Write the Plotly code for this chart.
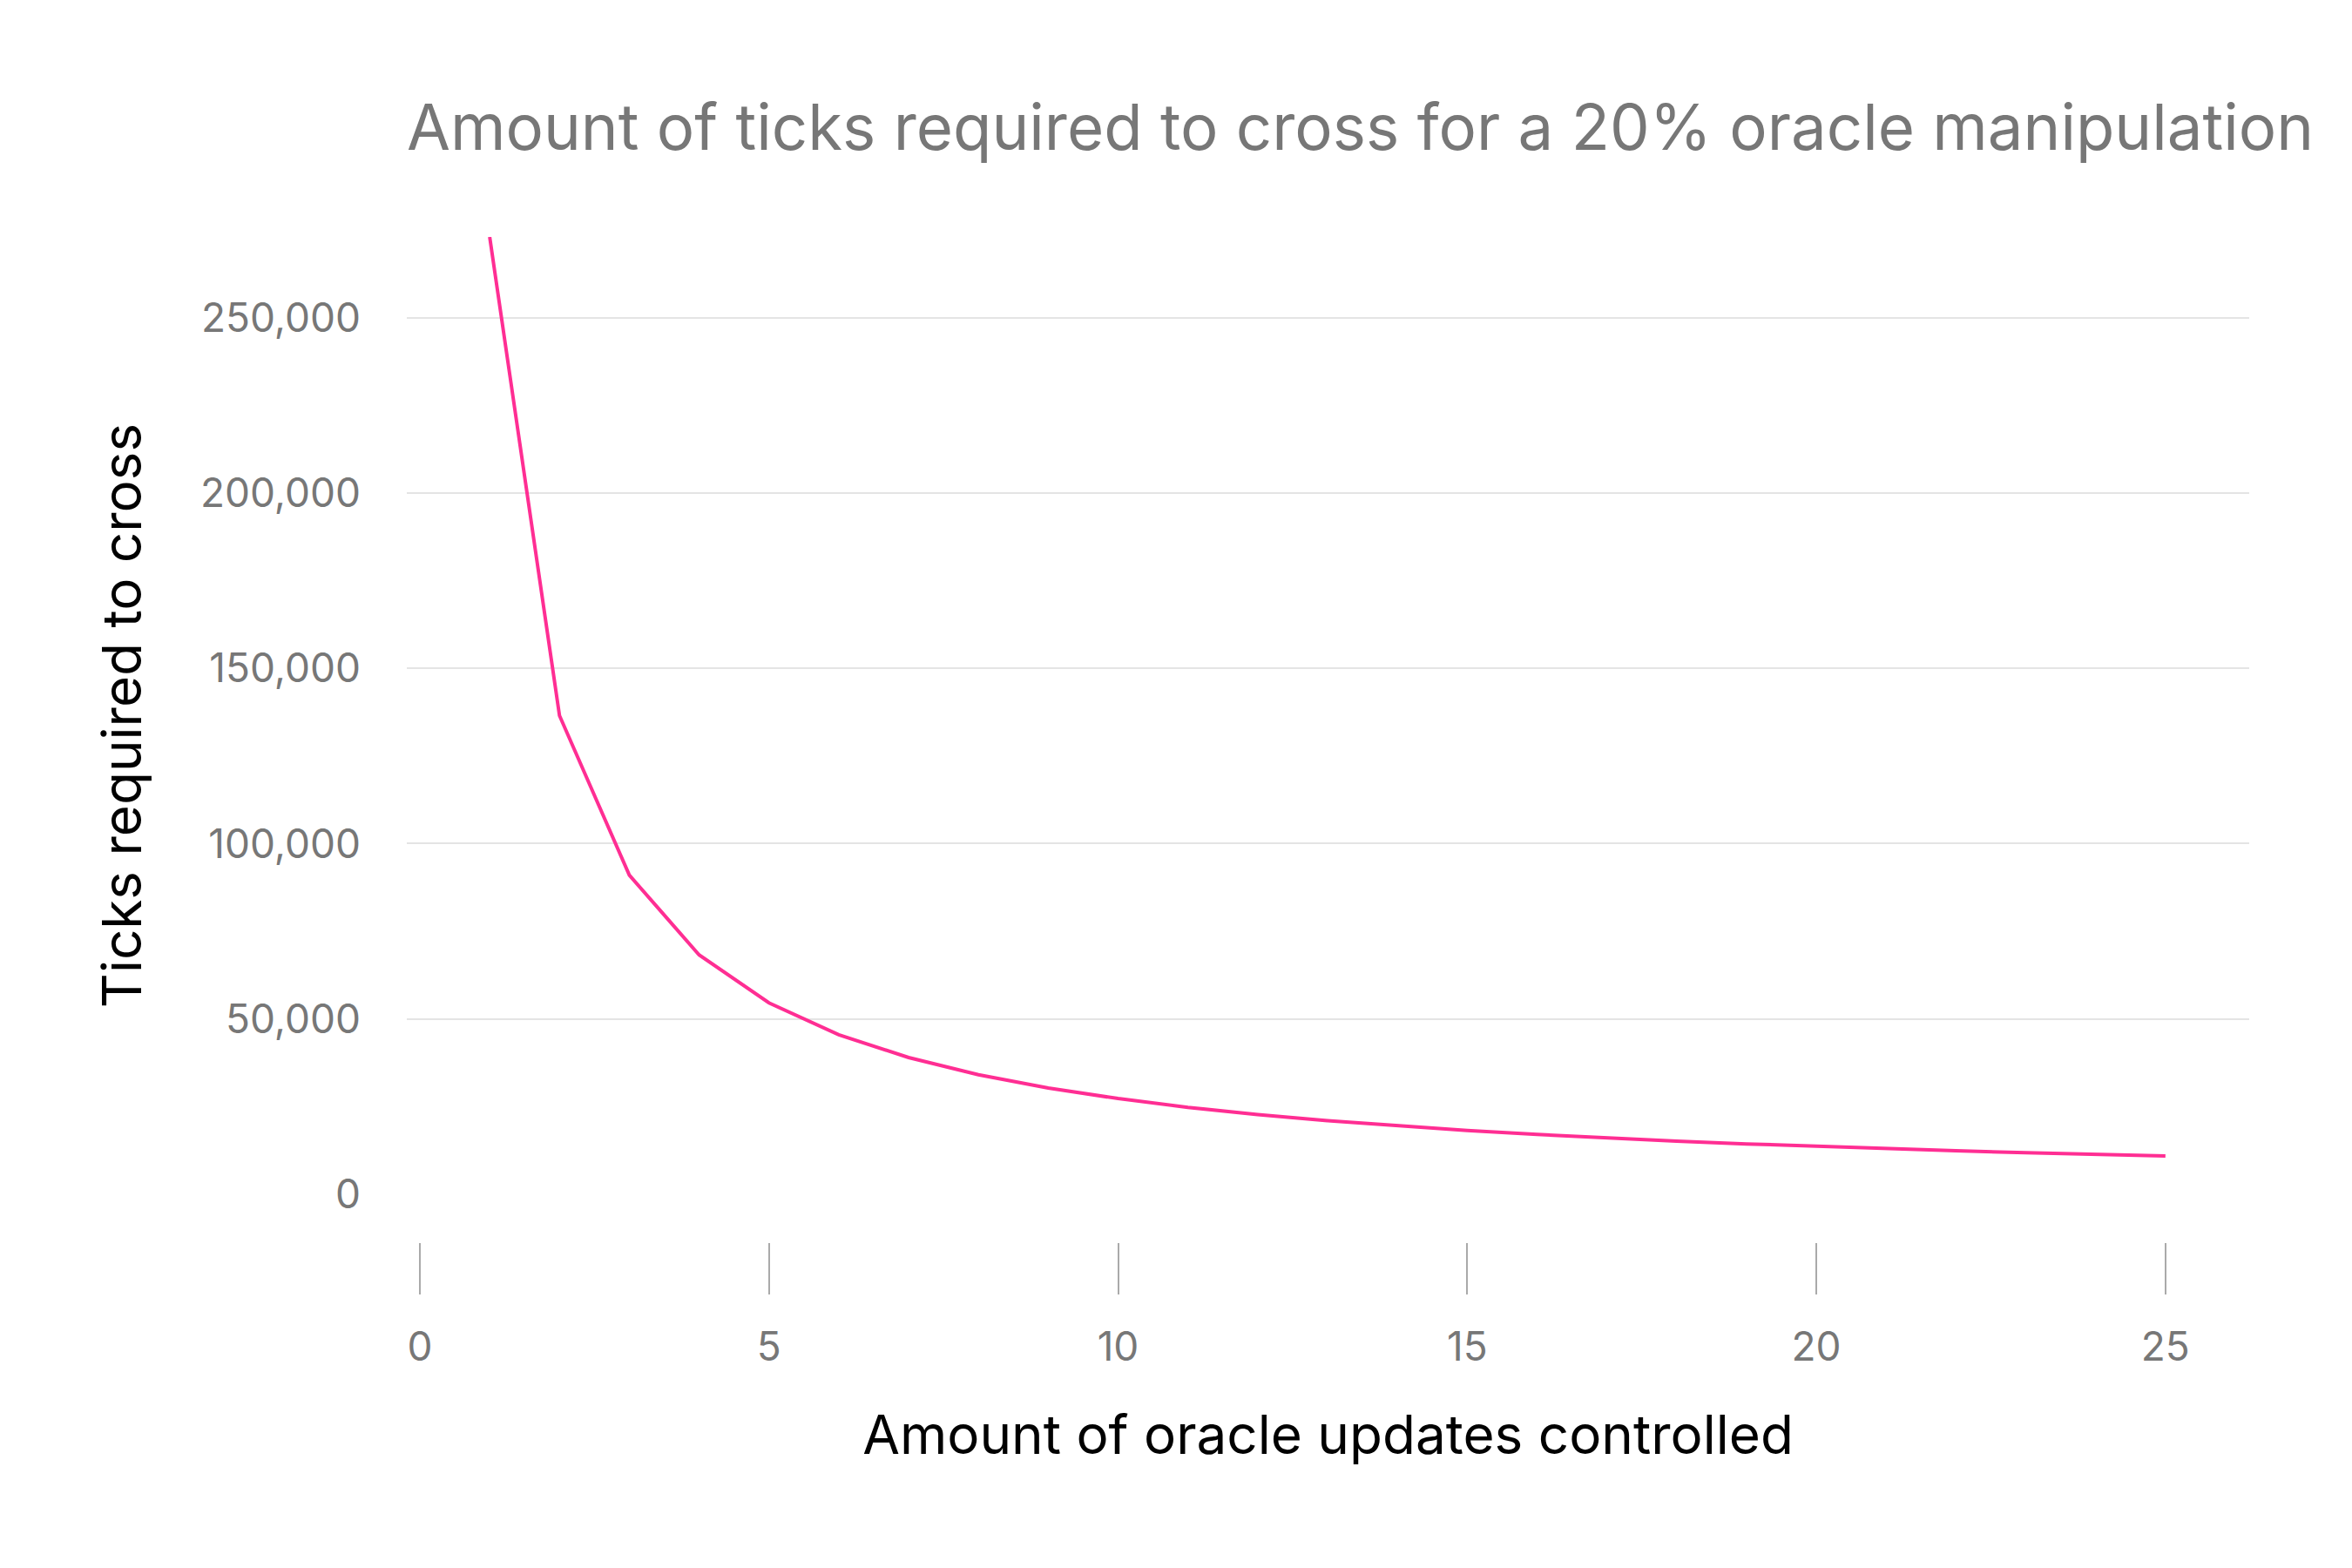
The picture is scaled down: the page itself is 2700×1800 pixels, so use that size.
import plotly.graph_objects as go

# oracle updates controlled (x) and ticks needed to cross (y)
updates = list(range(1, 26))
ticks_needed = [273000, 136500, 91000, 68250, 54600, 45500, 39000, 34100, 30300, 27300,
                24800, 22750, 21000, 19500, 18200, 17060, 16060, 15170, 14370, 13650,
                13000, 12410, 11870, 11375, 10920]

x_ticks = [0, 5, 10, 15, 20, 25]
y_ticks = [0, 50000, 100000, 150000, 200000, 250000]

# page has an 8px body margin, so lay out in figure coords
W, H = 2684, 1784
off = 8
top, bottom_axis, zero_line = 272 - off, 1426 - off, 1371 - off
left, right = 467 - off, 2582 - off
ydom0 = (bottom_axis - zero_line) / (bottom_axis - top)

fig = go.Figure()
fig.add_trace(go.Scatter(x=updates, y=ticks_needed, mode="lines",
                         line=dict(color="#ff2e93", width=4),
                         showlegend=False, cliponaxis=False))

fig.update_layout(
    width=W, height=H,
    paper_bgcolor="white", plot_bgcolor="white",
    margin=dict(l=left, r=W - right, t=top, b=H - bottom_axis),
    font=dict(family="Inter", color="#777777"),
    title=dict(text="Amount of ticks required to cross for a 20% oracle manipulation",
               x=left / W, xanchor="left", y=1 - (147 - off) / H, yanchor="middle",
               font=dict(size=72.5, color="#777777")),
)

fig.update_xaxes(
    range=[-0.187, 26.2], anchor="free", position=0,
    tickvals=x_ticks, ticks="outside", ticklen=59, tickwidth=2, tickcolor="#aaaaaa",
    ticklabelstandoff=21,
    showgrid=False, zeroline=False, showline=False,
    tickfont=dict(size=46, color="#777777"),
    title=dict(text="Amount of oracle updates controlled", standoff=53,
               font=dict(size=62, color="#000000")),
)
fig.update_yaxes(
    domain=[ydom0, 1], range=[0, max(ticks_needed)],
    tickvals=y_ticks, tickformat=",", ticks="",
    ticklabelstandoff=52,
    showgrid=True, gridcolor="#e4e4e4", gridwidth=2,
    zeroline=False, showline=False,
    tickfont=dict(size=46, color="#777777"),
    title=dict(text="Ticks required to cross", standoff=47,
               font=dict(size=62, color="#000000")),
)

fig.write_html("out.html")
